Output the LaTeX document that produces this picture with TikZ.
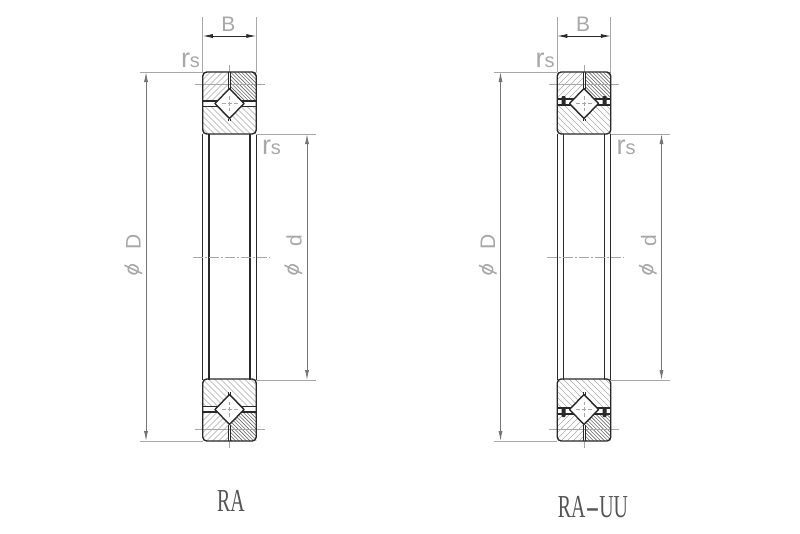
\documentclass[tikz,border=0pt]{standalone}
\usepackage{fontspec}
\usetikzlibrary{arrows.meta}
\setmainfont{Liberation Serif}
\newfontfamily\dimfont{Liberation Sans}
\definecolor{dimc}{gray}{0.66}
\definecolor{inkc}{gray}{0.16}
\tikzset{
  x=1pt,y=-1pt,
  outline/.style={draw=inkc,line width=1.4pt,line join=round},
  dimline/.style={draw=dimc,line width=1pt},
  dimarrow/.style={draw=inkc,line width=0.8pt,{Latex[length=10pt,width=4pt]}-{Latex[length=10pt,width=4pt]}},
  centre/.style={draw=dimc,line width=1pt,dash pattern=on 10pt off 2pt on 2pt off 2pt},
  dimtext/.style={text=dimc,font=\dimfont,inner sep=0pt},
  captiontext/.style={text=inkc!80!white,font=\fontsize{32}{32}\selectfont,xscale=.62,inner sep=0pt},
}
\newcommand{\hatchlines}[3]{% direction, spacing, colour
  \pgfmathsetmacro{\nexti}{-90+#2}
  \foreach \i in {-90,\nexti,...,90}
    \draw[draw=#3,line width=.6pt] ({\i-40*#1*\sgn},-5)--({\i+40*#1*\sgn},75);
}
\newcommand{\ringsection}[5]{% centre x, outer edge y, sign, outer-ring lower face, inner-ring upper face
  \begin{scope}[shift={(#1,#2)},yscale=#3]
    \pgfmathsetmacro{\sgn}{#3}
    \pgfmathsetmacro{\xa}{14.5-(31.5-#4)*14.5/15}
    \pgfmathsetmacro{\xb}{14.5-(#5-31.5)*14.5/15}
    \begin{scope}
      \clip (-26.75,0) -- (-1,0) -- (-1,16.5) -- (-\xa,#4) -- (-26.75,#4) -- cycle;
      \hatchlines{-1}{6}{gray!65}
    \end{scope}
    \begin{scope}
      \clip (26.75,0) -- (1,0) -- (1,16.5) -- (\xa,#4) -- (26.75,#4) -- cycle;
      \hatchlines{1}{3.6}{gray!85!black}
    \end{scope}
    \begin{scope}
      \clip (-26.75,#5) -- (-\xb,#5) -- (0,46.5) -- (\xb,#5) -- (26.75,#5) -- (26.75,62) -- (-26.75,62) -- cycle;
      \hatchlines{1}{6}{gray!65}
    \end{scope}
    \draw[dimline,dash pattern=on 4pt off 2pt] (-8,31.5) -- (8,31.5) (0,24) -- (0,39);
    \draw[dimline] (0,-7) -- (0,0);
    \draw[dimline] (-35,12) -- (35,12);
    \draw[outline,rounded corners=4pt] (-26.75,28) -- (-26.75,0) -- (26.75,0) -- (26.75,28);
    \draw[outline,rounded corners=4pt] (-26.75,28) -- (-26.75,62) -- (26.75,62) -- (26.75,28);
    \draw[outline] (-26.75,#4) -- (-\xa,#4) (26.75,#4) -- (\xa,#4);
    \draw[outline] (-26.75,#5) -- (-\xb,#5) (26.75,#5) -- (\xb,#5);
    \draw[outline] (0,16.5) -- (-14.5,31.5) -- (0,46.5) -- (14.5,31.5) -- cycle;
    \draw[outline,line width=1pt] (-1,0) -- (-1,16.5) (1,0) -- (1,16.5);
    \draw[outline,line width=1pt] (-1,46.5) -- (-1,49) (1,46.5) -- (1,49);
  \end{scope}
}
\newcommand{\sealpair}[2]{% centre x, outer edge y
  \fill[inkc,rounded corners=1pt] (#1-22.5,#2) rectangle (#1-18.5,#2+9);
  \fill[inkc,rounded corners=1pt] (#1+18.5,#2) rectangle (#1+22.5,#2+9);
}
\newcommand{\bearingbody}[3]{% centre x, outer-ring lower face, inner-ring upper face
  \ringsection{#1}{72}{1}{#2}{#3}
  \ringsection{#1}{441}{-1}{#2}{#3}
  \draw[outline] (#1-26.75,134) -- (#1-26.75,380) (#1+26.75,134) -- (#1+26.75,380);
  \draw[outline] (#1-20.5,134) -- (#1-20.5,380) (#1+20.5,134) -- (#1+20.5,380);
  \draw[centre] (#1-37,257) -- (#1+40,257);
}
\newcommand{\dims}[1]{% centre x
  \coordinate (bl) at (#1-26.75,72);
  \coordinate (br) at (#1+26.75,72);
  \draw[dimline] (#1-26.75,17) -- (bl) (#1+26.75,17) -- (br);
  \draw[dimarrow] (#1-26.75,36) -- (#1+26.75,36);
  \draw[dimline] (#1-90,72) -- (bl) (#1-90,441) -- (#1-26.75,441);
  \draw[dimarrow,draw=dimc!60!inkc] (#1-83.5,72) -- (#1-83.5,441);
  \draw[dimline] (#1+26.75,134) -- (#1+86,134) (#1+26.75,380) -- (#1+86,380);
  \draw[dimarrow,draw=dimc!60!inkc] (#1+77.5,134) -- (#1+77.5,380);
  \node[dimtext,font=\dimfont\fontsize{21}{21}\selectfont] at (#1-1,24) {B};
  \node[dimtext,font=\dimfont\fontsize{21}{21}\selectfont,rotate=90] at (#1-96,242) {D};
  \node[dimtext,font=\dimfont\fontsize{21}{21}\selectfont,rotate=90] at (#1+64.5,241) {d};
  \node[dimtext,font=\dimfont\fontsize{21}{21}\selectfont,rotate=65] at (#1-96,270) {ϕ};
  \node[dimtext,font=\dimfont\fontsize{21}{21}\selectfont,rotate=65] at (#1+64,270) {ϕ};
  \node[dimtext] at (#1-39,60) {\fontsize{27}{27}\selectfont r\fontsize{20}{20}\selectfont s};
  \node[dimtext] at (#1+42,147) {\fontsize{27}{27}\selectfont r\fontsize{20}{20}\selectfont s};
}
\begin{document}
\begin{tikzpicture}
\useasboundingbox (0,0) rectangle (800,533);
\fill[white] (0,0) rectangle (800,533);
\bearingbody{229.5}{29}{34.5}
\bearingbody{584}{27}{33}
\sealpair{584}{96}
\sealpair{584}{408}
\dims{229.5}
\dims{584}
\node[captiontext] (ra) at (231,501) {RA};
\node[captiontext] (rauu) at (593,507) {RA\scalebox{2.1}[1]{-}UU};
\end{tikzpicture}
\end{document}
